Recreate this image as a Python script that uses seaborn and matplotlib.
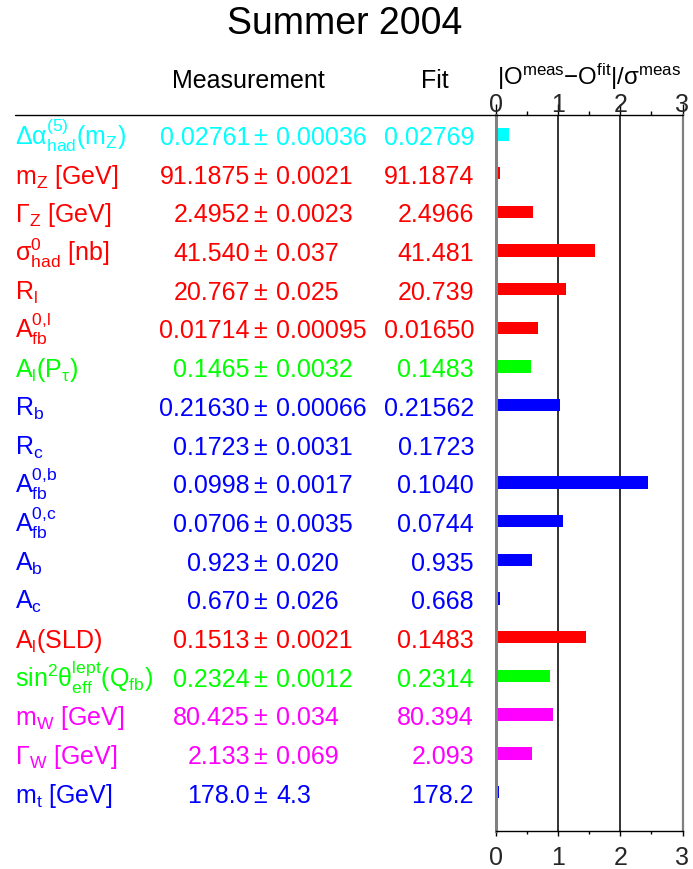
import matplotlib
matplotlib.use("Agg")
import matplotlib.pyplot as plt
import matplotlib.transforms as mtransforms
from matplotlib.lines import Line2D
import pandas as pd
import seaborn as sns

# ---------------------------------------------------------------------------
# Data
# ---------------------------------------------------------------------------
labels = [
    r"$\Delta\alpha^{(5)}_{had}(m_Z)$",
    r"m$_Z$ [GeV]",
    r"$\Gamma_Z$ [GeV]",
    r"$\sigma^0_{had}$ [nb]",
    r"R$_l$",
    r"A$^{0{,}l}_{fb}$",
    r"A$_l$(P$_\tau$)",
    r"R$_b$",
    r"R$_c$",
    r"A$^{0{,}b}_{fb}$",
    r"A$^{0{,}c}_{fb}$",
    r"A$_b$",
    r"A$_c$",
    r"A$_l$(SLD)",
    r"sin$^2\theta^{lept}_{eff}$(Q$_{fb}$)",
    r"m$_W$ [GeV]",
    r"$\Gamma_W$ [GeV]",
    r"m$_t$ [GeV]",
]
meas = ["0.02761", "91.1875", "2.4952", "41.540", "20.767", "0.01714",
        "0.1465", "0.21630", "0.1723", "0.0998", "0.0706", "0.923",
        "0.670", "0.1513", "0.2324", "80.425", "2.133", "178.0"]
errs = ["0.00036", "0.0021", "0.0023", "0.037", "0.025", "0.00095",
        "0.0032", "0.00066", "0.0031", "0.0017", "0.0035", "0.020",
        "0.026", "0.0021", "0.0012", "0.034", "0.069", "4.3"]
fits = ["0.02769", "91.1874", "2.4966", "41.481", "20.739", "0.01650",
        "0.1483", "0.21562", "0.1723", "0.1040", "0.0744", "0.935",
        "0.668", "0.1483", "0.2314", "80.394", "2.093", "178.2"]
pulls = [0.21, 0.07, 0.60, 1.59, 1.12, 0.68, 0.56, 1.03, 0.0, 2.45,
         1.08, 0.58, 0.06, 1.45, 0.87, 0.91, 0.58, 0.05]
colors = ["#00ffff", "#ff0000", "#ff0000", "#ff0000", "#ff0000", "#ff0000",
          "#00ff00", "#0000ff", "#0000ff", "#0000ff", "#0000ff", "#0000ff",
          "#0000ff", "#ff0000", "#00ff00", "#ff00ff", "#ff00ff", "#0000ff"]
xticks = [0, 1, 2, 3]

# ---------------------------------------------------------------------------
# Style
# ---------------------------------------------------------------------------
sns.set_theme(style="white")
plt.rcParams.update({
    "font.family": ["Liberation Sans", "DejaVu Sans"],
    "mathtext.fontset": "custom",
    "mathtext.rm": "Liberation Sans",
    "mathtext.it": "Liberation Sans",
    "mathtext.bf": "Liberation Sans:bold",
    "mathtext.default": "regular",
})
FS = 18
W, H = 693, 870

fig = plt.figure(figsize=(W / 100, H / 100), dpi=100)
ax = fig.add_axes([496 / W, 1 - 831.7 / H, (682.5 - 496) / W, (831.7 - 116) / H])

df = pd.DataFrame({"obs": [f"r{i}" for i in range(len(pulls))], "pull": pulls})
pal = dict(zip(df["obs"], colors))
sns.barplot(data=df, x="pull", y="obs", hue="obs", palette=pal, orient="h",
            width=0.32, saturation=1, linewidth=0, legend=False, ax=ax)

ax.set_xlim(0, 3)
ax.set_ylim(18.0, -0.5)
ax.set_xlabel("")
ax.set_ylabel("")
ax.tick_params(left=False, labelleft=False)

for v in (1, 2):
    ax.axvline(v, color="#222222", lw=1.3, zorder=0.5)
for side in ("left", "right"):
    ax.spines[side].set_color("#808080")
ax.spines["left"].set_linewidth(2.2)
ax.spines["right"].set_linewidth(1.6)
ax.spines["top"].set_visible(False)
ax.spines["bottom"].set_color("black")
ax.spines["bottom"].set_linewidth(1.0)

ax.set_xticks(xticks)
ax.set_xticks([0.5, 1.5, 2.5], minor=True)
ax.set_xticklabels([str(t) for t in xticks], fontsize=FS)
ax.tick_params(axis="x", which="major", bottom=True, direction="out",
               length=3.5, width=1, color="black", pad=7)
ax.tick_params(axis="x", which="minor", bottom=True, direction="out",
               length=2.5, width=1, color="black")

top = ax.secondary_xaxis("top")
top.set_xticks(xticks)
top.set_xticks([0.5, 1.5, 2.5], minor=True)
top.set_xticklabels([str(t) for t in xticks], fontsize=FS)
top.tick_params(axis="x", which="major", direction="out", length=8,
                width=1, color="black", pad=-8.5)
top.tick_params(axis="x", which="minor", direction="out", length=3,
                width=1, color="black")
top.spines["top"].set_visible(False)

# header separator line across the whole table
fig.add_artist(Line2D([15 / W, 682.5 / W], [1 - 116 / H, 1 - 116 / H],
                      color="black", lw=1.0, transform=fig.transFigure))

# ---------------------------------------------------------------------------
# Table text
# ---------------------------------------------------------------------------
trans = mtransforms.blended_transform_factory(fig.transFigure, ax.transData)
off = 0.25
for i, (lab, m, e, f, c) in enumerate(zip(labels, meas, errs, fits, colors)):
    y = i + off
    ax.text(15 / W, y, lab, transform=trans, ha="left", va="baseline",
            color=c, fontsize=FS, clip_on=False)
    ax.text(250 / W, y, m, transform=trans, ha="right", va="baseline",
            color=c, fontsize=FS, clip_on=False)
    ax.text(260.5 / W, y, "\u00b1", transform=trans, ha="center", va="baseline",
            color=c, fontsize=FS, clip_on=False)
    ax.text(276 / W, y, e, transform=trans, ha="left", va="baseline",
            color=c, fontsize=FS, clip_on=False)
    ax.text(474 / W, y, f, transform=trans, ha="right", va="baseline",
            color=c, fontsize=FS, clip_on=False)

fig.text(345 / W, 1 - 34 / H, "Summer 2004", ha="center", va="baseline",
         fontsize=27, color="black")
fig.text(248.5 / W, 1 - 88 / H, "Measurement", ha="center", va="baseline",
         fontsize=FS, color="black")
fig.text(435 / W, 1 - 88 / H, "Fit", ha="center", va="baseline",
         fontsize=FS, color="black")
fig.text(497 / W, 1 - 85 / H,
         r"|O$^{meas}$$-$O$^{fit}$|/$\sigma^{meas}$",
         ha="left", va="baseline", fontsize=17.3, color="black")

fig.savefig("out.png", dpi=100)
